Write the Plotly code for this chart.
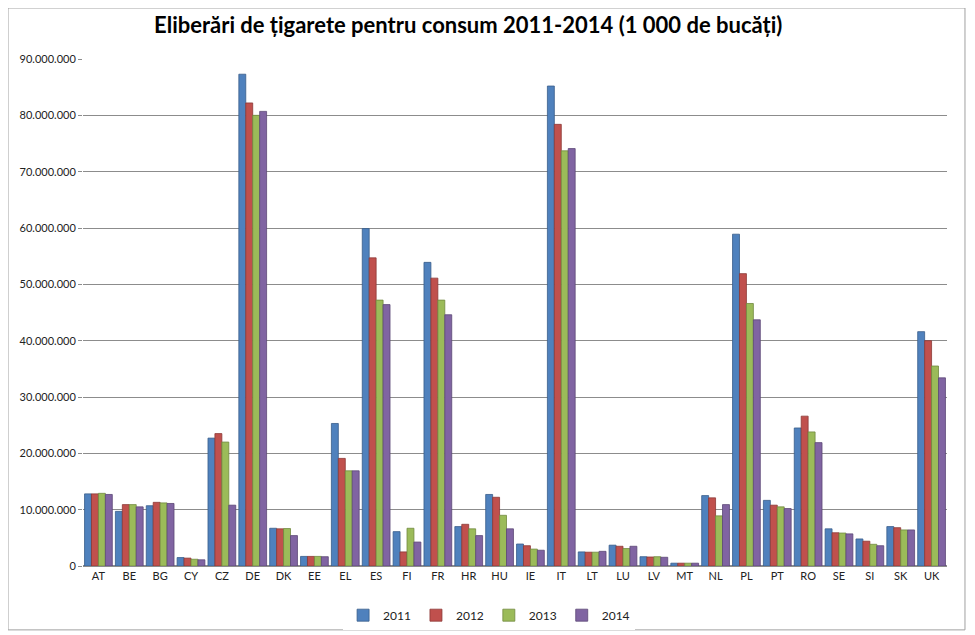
import plotly.graph_objects as go

# tari (coduri UE)
countries = ["AT", "BE", "BG", "CY", "CZ", "DE", "DK", "EE", "EL", "ES", "FI", "FR", "HR", "HU",
             "IE", "IT", "LT", "LU", "LV", "MT", "NL", "PL", "PT", "RO", "SE", "SI", "SK", "UK"]

# valori in 1 000 de bucati
y2011 = [12800000, 9700000, 10700000, 1500000, 22700000, 87300000, 6700000, 1700000, 25300000, 59900000,
         6100000, 53900000, 7000000, 12700000, 3900000, 85200000, 2500000, 3700000, 1650000, 500000,
         12500000, 58900000, 11650000, 24500000, 6600000, 4800000, 7000000, 41600000]
y2012 = [12800000, 10900000, 11300000, 1400000, 23500000, 82200000, 6600000, 1700000, 19100000, 54700000,
         2500000, 51100000, 7400000, 12200000, 3600000, 78400000, 2450000, 3500000, 1600000, 500000,
         12100000, 51900000, 10800000, 26600000, 5900000, 4400000, 6800000, 40000000]
y2013 = [12900000, 10900000, 11200000, 1200000, 22000000, 80000000, 6650000, 1700000, 16900000, 47200000,
         6700000, 47200000, 6600000, 9000000, 3000000, 73700000, 2450000, 3100000, 1650000, 500000,
         8900000, 46600000, 10500000, 23800000, 5850000, 3850000, 6400000, 35500000]
y2014 = [12700000, 10500000, 11100000, 1100000, 10800000, 80700000, 5400000, 1650000, 16900000, 46400000,
         4250000, 44600000, 5400000, 6600000, 2800000, 74100000, 2600000, 3500000, 1550000, 500000,
         10900000, 43700000, 10200000, 21900000, 5700000, 3600000, 6400000, 33400000]

years = ["2011", "2012", "2013", "2014"]
series = [y2011, y2012, y2013, y2014]
colors = ["#4F81BD", "#C0504D", "#9BBB59", "#8064A2"]
edges = ["#385D8A", "#8C3836", "#71893F", "#5C4776"]

fig = go.Figure()
for name, vals, col, edge in zip(years, series, colors, edges):
    fig.add_trace(go.Bar(x=countries, y=vals, name=name,
                         marker=dict(color=col, line=dict(color=edge, width=0.8))))

# the page has an 8px body margin, so the margins below are shifted to compensate
fig.update_layout(
    width=975, height=635,
    paper_bgcolor="white", plot_bgcolor="white",
    separators=",.",
    margin=dict(l=75, r=36, t=51, b=77),
    title=dict(text="<b>Eliberări de țigarete pentru consum 2011-2014 (1 000 de bucăți)</b>",
               x=0.472, xanchor="center", y=0.973, yanchor="middle",
               font=dict(family="Lato, Open Sans, sans-serif", size=22, color="black")),
    barmode="group", bargap=0.1, bargroupgap=0,
    font=dict(family="Lato, Liberation Sans, sans-serif", size=11, color="#222"),
    legend=dict(orientation="h", x=0.47, xanchor="center", y=-0.097, yanchor="middle",
                font=dict(size=12), itemwidth=30, traceorder="normal"),
    shapes=[dict(type="rect", xref="paper", yref="paper", x0=-0.0868, x1=1.0208, y0=-0.126, y1=1.1006,
                 line=dict(color="#A0A0A0", width=1))],
)
fig.update_xaxes(showline=True, linecolor="#8C8C8C", ticks="", tickfont=dict(size=11))
fig.update_yaxes(range=[0, 90000000], dtick=10000000, tickformat=",d",
                 showgrid=True, gridcolor="#8C8C8C", gridwidth=1,
                 zeroline=True, zerolinecolor="#8C8C8C",
                 ticks="outside", ticklen=4, tickcolor="#8C8C8C", tickfont=dict(size=11))

fig.write_html("out.html")
